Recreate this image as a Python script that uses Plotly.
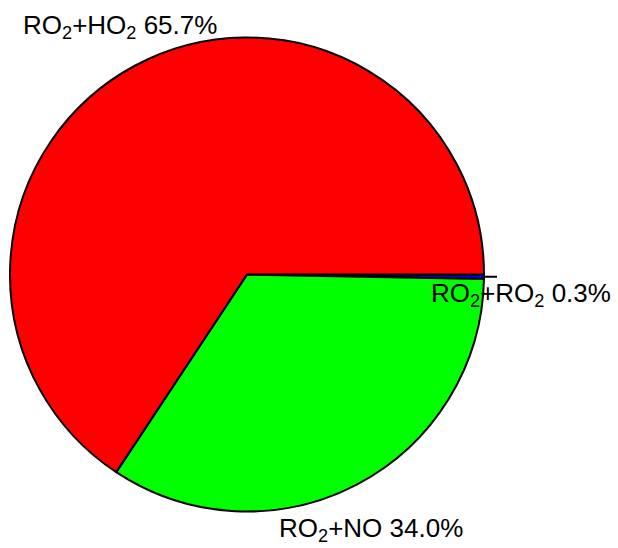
import math
import plotly.graph_objects as go

labels = ["RO<sub>2</sub>+HO<sub>2</sub>", "RO<sub>2</sub>+NO", "RO<sub>2</sub>+RO<sub>2</sub>"]
values = [65.7, 34.0, 0.3]
colors = ["#FF0000", "#00FF00", "#0000FF"]

W, H = 618, 548
cx, cy, r = 247, 274.5, 237  # pie placement in pixels

dom_x = [(cx - r) / W, (cx + r) / W]
dom_y = [1 - (cy + r) / H, 1 - (cy - r) / H]

# slices run counterclockwise from 3 o'clock in data order;
# equivalently clockwise from 3 o'clock in reversed order
fig = go.Figure(go.Pie(
    labels=labels[::-1],
    values=values[::-1],
    marker=dict(colors=colors[::-1], line=dict(color="black", width=2)),
    sort=False,
    direction="clockwise",
    rotation=90,
    textinfo="none",
    hoverinfo="label+percent",
    showlegend=False,
    domain=dict(x=dom_x, y=dom_y),
))

# label annotations
font = dict(family="Liberation Sans, Arial, sans-serif", size=26, color="black")
label_pos = [(21, 27), (277, 529), (429, 294)]
for lab, val, (lx, ly) in zip(labels, values, label_pos):
    fig.add_annotation(
        x=lx / W, y=1 - ly / H, xref="paper", yref="paper",
        xanchor="left", yanchor="middle", align="left",
        text=f"{lab} {val:.1f}%", showarrow=False, font=font,
    )

# leader line for the small slice, computed from the data
total = sum(values)
cum = sum(values[:-1]) + values[-1] / 2
ang = 2 * math.pi * cum / total
x0 = cx + r * math.cos(ang)
y0 = cy - r * math.sin(ang)
x1 = cx + 1.055 * r * math.cos(ang)
y1 = cy - 1.055 * r * math.sin(ang)
fig.add_shape(type="line", xref="paper", yref="paper",
              x0=x0 / W, y0=1 - y0 / H, x1=x1 / W, y1=1 - y1 / H,
              line=dict(color="black", width=2))

fig.update_layout(
    width=W, height=H,
    margin=dict(l=0, r=0, t=0, b=0),
    paper_bgcolor="white", plot_bgcolor="white",
)

fig.write_html("out.html", config={"displayModeBar": False},
               post_script="document.body.style.margin='0px';")
